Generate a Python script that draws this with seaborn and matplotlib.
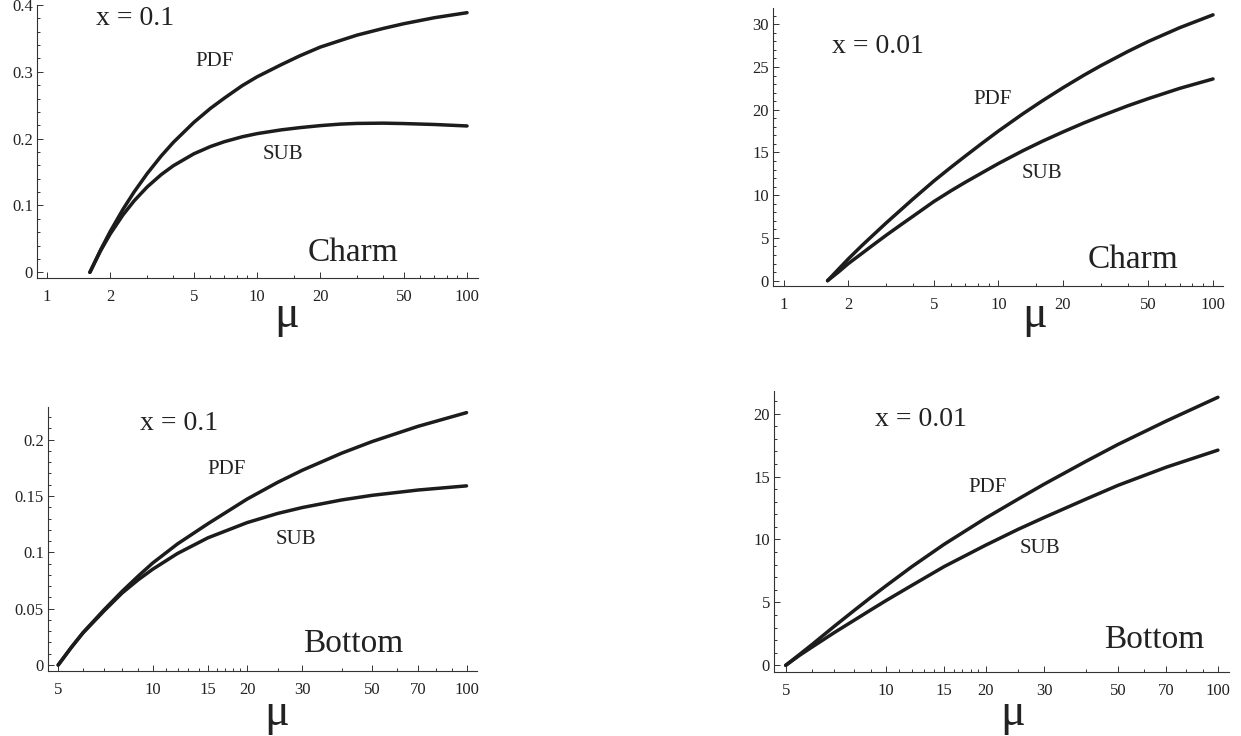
import matplotlib
matplotlib.use("Agg")
import matplotlib.pyplot as plt
import seaborn as sns
from matplotlib.ticker import FixedLocator, FixedFormatter, NullFormatter

# ---------------- data ----------------
charm_mu = [1.6, 1.8, 2, 2.3, 2.6, 3, 3.5, 4, 5, 6, 7, 8.5, 10, 13, 16, 20, 25, 30, 40, 50, 70, 100]
charm_x01_pdf = [0, 0.0337, 0.0612, 0.0943, 0.1204, 0.1478, 0.1742, 0.1946, 0.2243, 0.2453, 0.2608,
                 0.2793, 0.2925, 0.3105, 0.324, 0.337, 0.347, 0.355, 0.365, 0.372, 0.381, 0.3885]
charm_x01_sub = [0, 0.0323, 0.0574, 0.0859, 0.107, 0.1278, 0.1463, 0.1596, 0.1773, 0.1882, 0.1955,
                 0.2028, 0.2075, 0.2131, 0.2165, 0.2195, 0.2218, 0.2228, 0.2232, 0.2226, 0.2212, 0.219]
charm_x001_pdf = [0, 1.35, 2.55, 4.05, 5.3, 6.75, 8.25, 9.55, 11.65, 13.25, 14.56, 16.18, 17.5,
                  19.52, 21.03, 22.57, 24.03, 25.15, 26.8, 27.99, 29.6, 31.1]
charm_x001_sub = [0, 1.02, 2.0, 3.14, 4.15, 5.31, 6.51, 7.53, 9.25, 10.5, 11.5, 12.7, 13.7,
                  15.2, 16.3, 17.4, 18.45, 19.25, 20.45, 21.3, 22.5, 23.6]

bottom_mu = [5, 5.5, 6, 7, 8, 9, 10, 12, 15, 20, 25, 30, 40, 50, 70, 100]
bottom_x01_pdf = [0, 0.0155, 0.0288, 0.049, 0.0655, 0.079, 0.0905, 0.1075, 0.1254, 0.1473, 0.1621,
                  0.1729, 0.188, 0.1983, 0.2118, 0.224]
bottom_x01_sub = [0, 0.0155, 0.0285, 0.048, 0.064, 0.0757, 0.085, 0.099, 0.1129, 0.1264, 0.1345,
                  0.1398, 0.1465, 0.1506, 0.1553, 0.159]
bottom_x001_pdf = [0, 0.86, 1.65, 3.1, 4.32, 5.38, 6.3, 7.85, 9.62, 11.7, 13.2, 14.4, 16.2, 17.55, 19.42, 21.3]
bottom_x001_sub = [0, 0.79, 1.45, 2.6, 3.55, 4.39, 5.13, 6.36, 7.85, 9.55, 10.8, 11.75, 13.2, 14.3, 15.75, 17.1]

charm_xticks = [1, 2, 5, 10, 20, 50, 100]
charm_xticklabels = ["1", "2", "5", "10", "20", "50", "100"]
charm_xminor = [3, 4, 6, 7, 8, 9, 15, 30, 40, 60, 70, 80, 90]
bottom_xticks = [5, 10, 15, 20, 30, 50, 70, 100]
bottom_xticklabels = ["5", "10", "15", "20", "30", "50", "70", "100"]
bottom_xminor = [6, 7, 8, 9, 11, 12, 13, 14, 16, 17, 18, 19, 25, 40, 60, 80, 90]

p1_yticks = [0, 0.1, 0.2, 0.3, 0.4]
p1_yticklabels = ["0", "0.1", "0.2", "0.3", "0.4"]
p1_yminor = [0.02, 0.04, 0.06, 0.08, 0.12, 0.14, 0.16, 0.18, 0.22, 0.24, 0.26, 0.28, 0.32, 0.34, 0.36, 0.38]
p2_yticks = [0, 5, 10, 15, 20, 25, 30]
p2_yticklabels = ["0", "5", "10", "15", "20", "25", "30"]
p2_yminor = [v for v in range(0, 32) if v % 5 != 0]
p3_yticks = [0, 0.05, 0.1, 0.15, 0.2]
p3_yticklabels = ["0", "0.05", "0.1", "0.15", "0.2"]
p3_yminor = [0.01, 0.02, 0.03, 0.04, 0.06, 0.07, 0.08, 0.09, 0.11, 0.12, 0.13, 0.14, 0.16, 0.17, 0.18, 0.19, 0.21, 0.22]
p4_yticks = [0, 5, 10, 15, 20]
p4_yticklabels = ["0", "5", "10", "15", "20"]
p4_yminor = [v for v in range(0, 22) if v % 5 != 0]

# ---------------- style ----------------
sns.set_style("ticks")
SERIF = ["Liberation Serif", "DejaVu Serif"]
plt.rcParams["font.family"] = SERIF
plt.rcParams["axes.linewidth"] = 0.8
LINE = "#1c1c1c"
TXT = "#222222"

W, H = 1241, 736
fig = plt.figure(figsize=(W / 100, H / 100), dpi=100)


def make_axes(l, r, t, b):
    return fig.add_axes([l / W, 1 - b / H, (r - l) / W, (b - t) / H])


panels = [
    dict(box=(37, 478, 5, 278), mu=charm_mu, pdf=charm_x01_pdf, sub=charm_x01_sub,
         xlim=(0.896, 112.8), ylim=(-0.0085, 0.4),
         xt=charm_xticks, xtl=charm_xticklabels, xm=charm_xminor,
         yt=p1_yticks, ytl=p1_yticklabels, ym=p1_yminor,
         xlab=("x = 0.1", 2.62, 0.38), pdfl=(6.29, 0.315), subl=(13.3, 0.1765),
         name=("Charm", 28.6, 0.029), mupos=(287, 327)),
    dict(box=(773, 1223, 8, 286), mu=charm_mu, pdf=charm_x001_pdf, sub=charm_x001_sub,
         xlim=(0.891, 111.3), ylim=(-0.625, 31.9),
         xt=charm_xticks, xtl=charm_xticklabels, xm=charm_xminor,
         yt=p2_yticks, ytl=p2_yticklabels, ym=p2_yminor,
         xlab=("x = 0.01", 2.75, 27.4), pdfl=(9.41, 21.2), subl=(15.9, 12.5),
         name=("Charm", 42.4, 2.5), mupos=(1035, 327)),
    dict(box=(48, 477, 407, 671), mu=bottom_mu, pdf=bottom_x01_pdf, sub=bottom_x01_sub,
         xlim=(4.64, 108), ylim=(-0.0053, 0.229),
         xt=bottom_xticks, xtl=bottom_xticklabels, xm=bottom_xminor,
         yt=p3_yticks, ytl=p3_yticklabels, ym=p3_yminor,
         xlab=("x = 0.1", 12.1, 0.2145), pdfl=(17.2, 0.1737), subl=(28.7, 0.111),
         name=("Bottom", 43.5, 0.0186), mupos=(277, 725)),
    dict(box=(774, 1229, 391, 672), mu=bottom_mu, pdf=bottom_x001_pdf, sub=bottom_x001_sub,
         xlim=(4.61, 108), ylim=(-0.53, 21.8),
         xt=bottom_xticks, xtl=bottom_xticklabels, xm=bottom_xminor,
         yt=p4_yticks, ytl=p4_yticklabels, ym=p4_yminor,
         xlab=("x = 0.01", 12.8, 19.5), pdfl=(20.2, 14.1), subl=(29.2, 9.3),
         name=("Bottom", 64.4, 2.0), mupos=(1013, 725)),
]

for p in panels:
    ax = make_axes(*p["box"])
    sns.lineplot(x=p["mu"], y=p["pdf"], ax=ax, color=LINE, lw=2.5)
    sns.lineplot(x=p["mu"], y=p["sub"], ax=ax, color=LINE, lw=2.5)
    ax.set_xscale("log")
    ax.set_xlim(*p["xlim"])
    ax.set_ylim(*p["ylim"])
    ax.xaxis.set_major_locator(FixedLocator(p["xt"]))
    ax.xaxis.set_major_formatter(FixedFormatter(p["xtl"]))
    ax.xaxis.set_minor_locator(FixedLocator(p["xm"]))
    ax.xaxis.set_minor_formatter(NullFormatter())
    ax.yaxis.set_major_locator(FixedLocator(p["yt"]))
    ax.yaxis.set_major_formatter(FixedFormatter(p["ytl"]))
    ax.yaxis.set_minor_locator(FixedLocator(p["ym"]))
    ax.tick_params(axis="both", which="both", direction="in", colors="#333333",
                   labelcolor=TXT, labelsize=12, width=0.7)
    ax.tick_params(axis="both", which="major", length=4)
    ax.tick_params(axis="both", which="minor", length=2.2)
    ax.tick_params(axis="x", which="both", pad=8)
    ax.tick_params(axis="y", which="both", pad=3)
    for s in ("top", "right"):
        ax.spines[s].set_visible(False)
    for s in ("left", "bottom"):
        ax.spines[s].set_color("#333333")
    ax.set_xlabel("")
    ax.set_ylabel("")
    t, xx, yy = p["xlab"]
    ax.text(xx, yy, t, fontsize=20, ha="center", va="center", color=TXT)
    ax.text(p["pdfl"][0], p["pdfl"][1], "PDF", fontsize=15, ha="center", va="center", color=TXT)
    ax.text(p["subl"][0], p["subl"][1], "SUB", fontsize=15, ha="center", va="center", color=TXT)
    n, nx, ny = p["name"]
    ax.text(nx, ny, n, fontsize=24, ha="center", va="center", color=TXT)
    mx, my = p["mupos"]
    fig.text(mx / W, 1 - my / H, "μ", fontsize=33, ha="center", va="baseline", color=TXT)

fig.savefig("out.png", dpi=100)
